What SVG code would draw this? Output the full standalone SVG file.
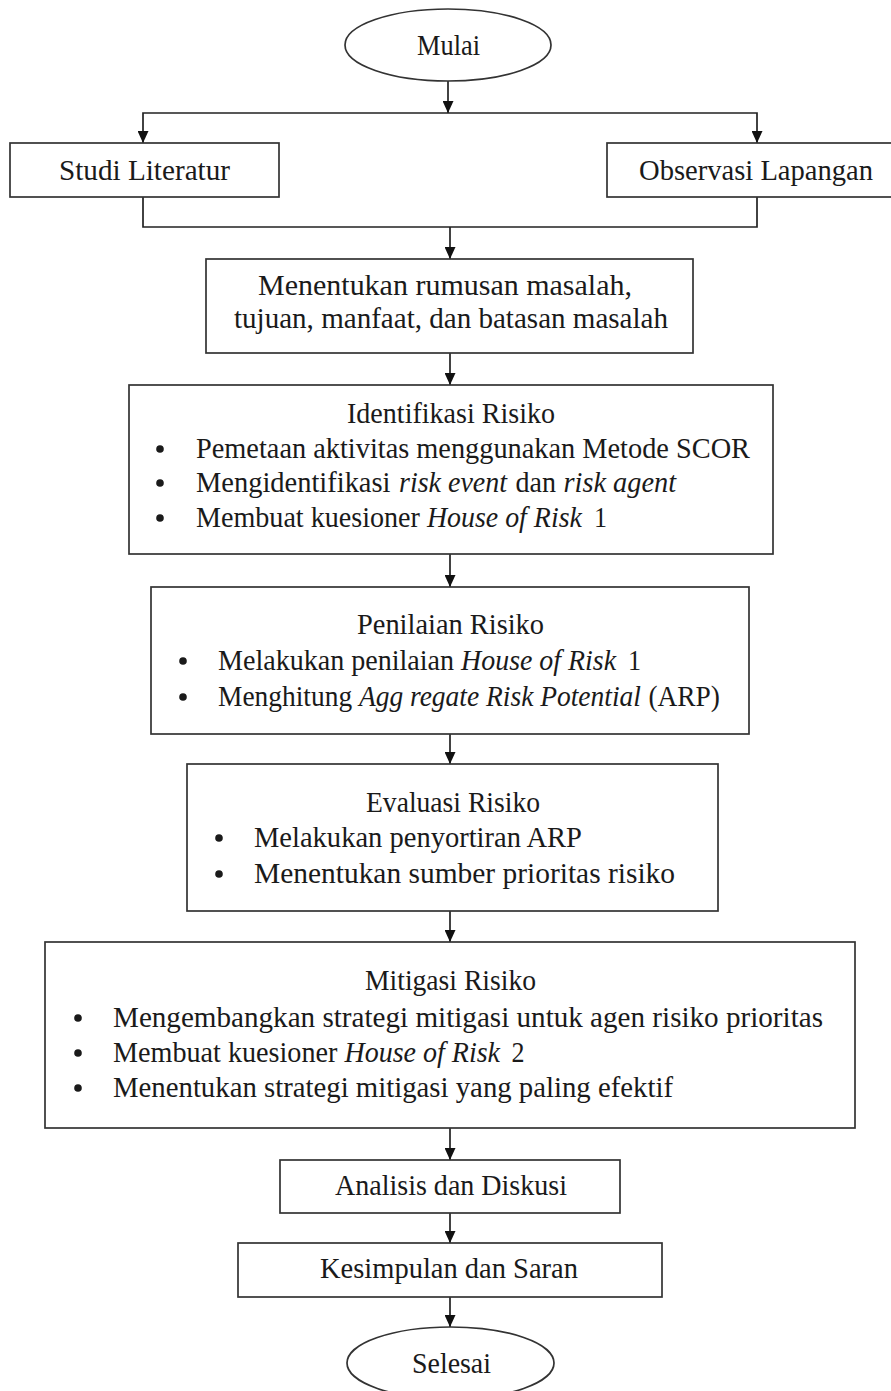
<svg xmlns="http://www.w3.org/2000/svg" width="891" height="1391" viewBox="0 0 891 1391">
<style>
.box{fill:#fff;stroke:#333;stroke-width:1.7}
.ln{fill:none;stroke:#222;stroke-width:1.7}
.t{font-family:"Liberation Serif","Times New Roman",serif;font-size:30px;fill:#1a1a1a}
.c{text-anchor:middle}
.i{font-style:italic}
.b{fill:#1a1a1a}
</style>
<defs>
<marker id="ah" viewBox="0 0 12 11" refX="12" refY="5.5" markerWidth="12" markerHeight="11" markerUnits="userSpaceOnUse" orient="auto">
<path d="M0,0 L12,5.5 L0,11 z" fill="#111"/>
</marker>
</defs>
<rect width="891" height="1391" fill="#fff"/>
<g id="connectors">
<path class="ln" d="M448,81 V113" marker-end="url(#ah)"/>
<path class="ln" d="M450,113 H143 V143" marker-end="url(#ah)"/>
<path class="ln" d="M450,113 H757 V143" marker-end="url(#ah)"/>
<path class="ln" d="M143,197 V227 H757 V197"/>
<path class="ln" d="M450,227 V259" marker-end="url(#ah)"/>
<path class="ln" d="M450,353 V385" marker-end="url(#ah)"/>
<path class="ln" d="M450,554 V587" marker-end="url(#ah)"/>
<path class="ln" d="M450,734 V764" marker-end="url(#ah)"/>
<path class="ln" d="M450,911 V942" marker-end="url(#ah)"/>
<path class="ln" d="M450,1128 V1160" marker-end="url(#ah)"/>
<path class="ln" d="M450,1213 V1243" marker-end="url(#ah)"/>
<path class="ln" d="M450,1297 V1327" marker-end="url(#ah)"/>
</g>
<g id="mulai">
<ellipse class="box" cx="448" cy="45" rx="103" ry="36"/>
<text class="t c" x="448.5" y="55" textLength="63" lengthAdjust="spacingAndGlyphs">Mulai</text>
</g>
<g id="studi">
<rect class="box" x="10" y="143" width="269" height="54"/>
<text class="t c" x="144.5" y="180" textLength="171" lengthAdjust="spacingAndGlyphs">Studi Literatur</text>
</g>
<g id="observasi">
<rect class="box" x="607" y="143" width="290" height="54"/>
<text class="t c" x="756" y="180" textLength="234" lengthAdjust="spacingAndGlyphs">Observasi Lapangan</text>
</g>
<g id="rumusan">
<rect class="box" x="206" y="259" width="487" height="94"/>
<text class="t c" x="445" y="295" textLength="374" lengthAdjust="spacingAndGlyphs">Menentukan rumusan masalah,</text>
<text class="t c" x="451" y="328" textLength="434" lengthAdjust="spacingAndGlyphs">tujuan, manfaat, dan batasan masalah</text>
</g>
<g id="identifikasi">
<rect class="box" x="129" y="385" width="644" height="169"/>
<text class="t c" x="451" y="423" textLength="208" lengthAdjust="spacingAndGlyphs">Identifikasi Risiko</text>
<circle class="b" cx="160" cy="449" r="3.8"/>
<text class="t" x="196" y="458" textLength="554" lengthAdjust="spacingAndGlyphs">Pemetaan aktivitas menggunakan Metode SCOR</text>
<circle class="b" cx="160" cy="483" r="3.8"/>
<text class="t" x="196" y="492" textLength="194.5" lengthAdjust="spacingAndGlyphs">Mengidentifikasi</text>
<text class="t i" x="399" y="492" textLength="108" lengthAdjust="spacingAndGlyphs">risk event</text>
<text class="t" x="515.5" y="492" textLength="40.5" lengthAdjust="spacingAndGlyphs">dan</text>
<text class="t i" x="563.5" y="492" textLength="112.5" lengthAdjust="spacingAndGlyphs">risk agent</text>
<circle class="b" cx="160" cy="518" r="3.8"/>
<text class="t" x="196" y="527" textLength="223.9" lengthAdjust="spacingAndGlyphs">Membuat kuesioner</text>
<text class="t i" x="426.9" y="527" textLength="155" lengthAdjust="spacingAndGlyphs">House of Risk</text>
<text class="t" x="594" y="527" textLength="13" lengthAdjust="spacingAndGlyphs">1</text>
</g>
<g id="penilaian">
<rect class="box" x="151" y="587" width="598" height="147"/>
<text class="t c" x="450.5" y="634" textLength="187" lengthAdjust="spacingAndGlyphs">Penilaian Risiko</text>
<circle class="b" cx="183" cy="661" r="3.8"/>
<text class="t" x="218" y="670" textLength="236.1" lengthAdjust="spacingAndGlyphs">Melakukan penilaian</text>
<text class="t i" x="461.1" y="670" textLength="155" lengthAdjust="spacingAndGlyphs">House of Risk</text>
<text class="t" x="628" y="670" textLength="13" lengthAdjust="spacingAndGlyphs">1</text>
<circle class="b" cx="183" cy="697" r="3.8"/>
<text class="t" x="218" y="706" textLength="134.1" lengthAdjust="spacingAndGlyphs">Menghitung</text>
<text class="t i" x="358.9" y="706" font-size="27" textLength="282" lengthAdjust="spacingAndGlyphs">Agg regate Risk Potential</text>
<text class="t" x="648.4" y="706" textLength="71.6" lengthAdjust="spacingAndGlyphs">(ARP)</text>
</g>
<g id="evaluasi">
<rect class="box" x="187" y="764" width="531" height="147"/>
<text class="t c" x="453" y="812" textLength="174" lengthAdjust="spacingAndGlyphs">Evaluasi Risiko</text>
<circle class="b" cx="219" cy="838" r="3.8"/>
<text class="t" x="254" y="847" textLength="328" lengthAdjust="spacingAndGlyphs">Melakukan penyortiran ARP</text>
<circle class="b" cx="219" cy="874" r="3.8"/>
<text class="t" x="254" y="883" textLength="421" lengthAdjust="spacingAndGlyphs">Menentukan sumber prioritas risiko</text>
</g>
<g id="mitigasi">
<rect class="box" x="45" y="942" width="810" height="186"/>
<text class="t c" x="450.5" y="990" textLength="171" lengthAdjust="spacingAndGlyphs">Mitigasi Risiko</text>
<circle class="b" cx="78" cy="1018" r="3.8"/>
<text class="t" x="113" y="1027" textLength="710" lengthAdjust="spacingAndGlyphs">Mengembangkan strategi mitigasi untuk agen risiko prioritas</text>
<circle class="b" cx="78" cy="1053" r="3.8"/>
<text class="t" x="113" y="1062" textLength="224.4" lengthAdjust="spacingAndGlyphs">Membuat kuesioner</text>
<text class="t i" x="344.5" y="1062" textLength="155.5" lengthAdjust="spacingAndGlyphs">House of Risk</text>
<text class="t" x="511.5" y="1062" textLength="13" lengthAdjust="spacingAndGlyphs">2</text>
<circle class="b" cx="78" cy="1088" r="3.8"/>
<text class="t" x="113" y="1097" textLength="560" lengthAdjust="spacingAndGlyphs">Menentukan strategi mitigasi yang paling efektif</text>
</g>
<g id="analisis">
<rect class="box" x="280" y="1160" width="340" height="53"/>
<text class="t c" x="451" y="1195" textLength="232" lengthAdjust="spacingAndGlyphs">Analisis dan Diskusi</text>
</g>
<g id="kesimpulan">
<rect class="box" x="238" y="1243" width="424" height="54"/>
<text class="t c" x="449" y="1278" textLength="258" lengthAdjust="spacingAndGlyphs">Kesimpulan dan Saran</text>
</g>
<g id="selesai">
<ellipse class="box" cx="450.5" cy="1363" rx="103.5" ry="36"/>
<text class="t c" x="451.5" y="1373" textLength="79" lengthAdjust="spacingAndGlyphs">Selesai</text>
</g>
</svg>
